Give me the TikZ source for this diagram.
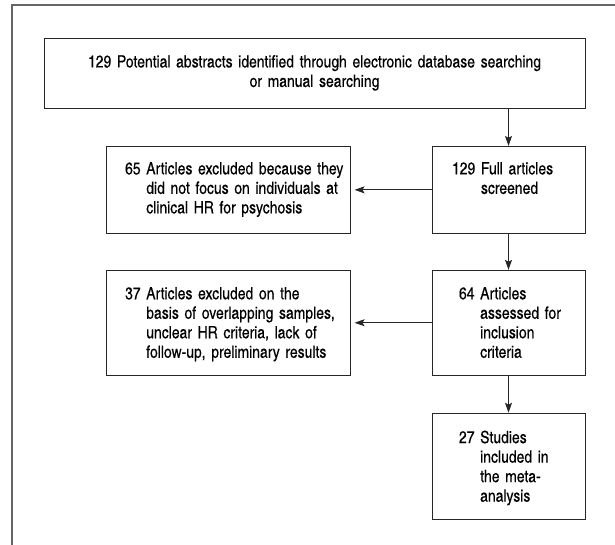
\documentclass[tikz,border=0pt]{standalone}
\usepackage{fontspec}
\setmainfont[FakeBold=0.3]{texgyreheroscn-regular.otf}
\usetikzlibrary{arrows.meta, positioning}

% number in front, the rest of the lines hang after it
\newcommand\hangtext[2]{\begin{tabular}[t]{@{}l@{\ }l@{}}#1 & #2\end{tabular}}

\tikzset{
  entry/.style n args={4}{draw=black!85, line width=0.9pt, inner sep=0pt,
    text width=#1, minimum width=#1, align=left,
    text height=#2, text depth=#3, execute at begin node={\hspace*{#4}}},
  arrow/.style={-{Stealth[length=10pt, width=7pt, inset=2pt]}, line width=0.9pt, draw=black!85},
  outer/.style={draw=black!60, line width=1.4pt}
}

\begin{document}
\begin{tikzpicture}[x=1pt, y=-1pt, font=\fontsize{17}{19.5}\selectfont]
  \useasboundingbox (0,0) rectangle (615,544);
  \begin{scope}
    \clip (0,0) rectangle (615,544);
    \draw[outer] (12,5) rectangle (640,570);
  \end{scope}

  \node[draw=black!85, line width=0.9pt, inner sep=0pt, text width=541pt, align=center,
    text height=29pt, text depth=41pt, anchor=north] (abstracts) at (314.5,38)
    {129 Potential abstracts identified through electronic database searching\\or manual searching};

  \node[entry={153pt}{28pt}{59pt}{20pt}, below=37pt of abstracts.south east, anchor=north east] (screened)
    {\hangtext{129}{Full articles\\ & screened}};
  \node[entry={153pt}{29pt}{76pt}{27pt}, below=36pt of screened] (assessed)
    {\hangtext{64}{Articles\\ & assessed for\\ & inclusion\\ & criteria}};
  \node[entry={153pt}{30pt}{76pt}{27pt}, below=37pt of assessed] (included)
    {\hangtext{27}{Studies\\ & included in\\ & the meta-\\ & analysis}};

  \node[entry={244pt}{28pt}{59pt}{19pt}, left=81pt of screened] (excluded-a)
    {\hangtext{65}{Articles excluded because they\\ & did not focus on individuals at\\ & clinical HR for psychosis}};
  \node[entry={244pt}{29pt}{76pt}{19pt}, left=81pt of assessed] (excluded-b)
    {\hangtext{37}{Articles excluded on the\\ & basis of overlapping samples,\\ & unclear HR criteria, lack of\\ & follow-up, preliminary results}};

  \draw[arrow] (abstracts.south -| screened.north) -- (screened);
  \draw[arrow] (screened) -- (assessed);
  \draw[arrow] (assessed) -- (included);
  \draw[arrow, shorten >=4pt] (screened) -- (excluded-a);
  \draw[arrow, shorten >=4pt] (assessed) -- (excluded-b);
\end{tikzpicture}
\end{document}
